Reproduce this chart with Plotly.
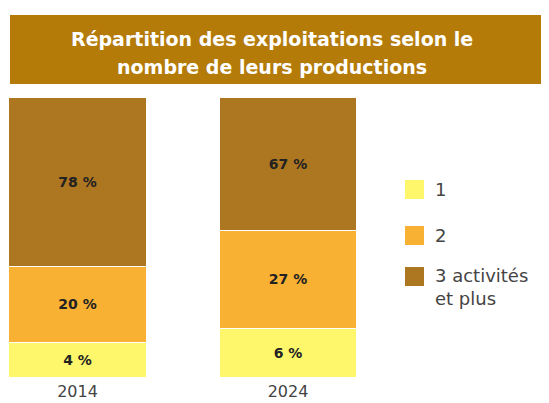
import plotly.graph_objects as go

years = ["2014", "2024"]
series_names = ["1", "2", "3 activités<br>et plus"]
# segment heights as drawn in the picture (share of bar height, %)
seg_1 = [12.5, 17.5]
seg_2 = [27.1, 35.0]
seg_3 = [60.4, 47.5]
# printed labels
lab_1 = ["4 %", "6 %"]
lab_2 = ["20 %", "27 %"]
lab_3 = ["78 %", "67 %"]
colors = ["#FEF76C", "#F8B133", "#AD7620"]
title_lines = ["Répartition des exploitations selon le", "nombre de leurs productions"]

OFF = 8  # page body margin
W, H = 549 - OFF, 403 - OFF
# plot area in window pixels: x 0..380, y 97..377
L, R, T, B = 0, 549 - 380, 97 - OFF, 403 - 377
PW, PH = W - L - R, H - T - B

def px_x(px):
    return (px - OFF - L) / PW

def px_y(py):
    return (403 - B - py) / PH

fig = go.Figure()
for vals, labs, col in zip([seg_1, seg_2, seg_3], [lab_1, lab_2, lab_3], colors):
    fig.add_trace(go.Bar(
        x=[0, 1], y=vals, text=labs, texttemplate="%{text}",
        textposition="inside", insidetextanchor="middle",
        textfont=dict(family="DejaVu Sans", size=14, color="#222222", weight="bold"),
        marker=dict(color=col, line=dict(color="white", width=1)),
        width=0.651, showlegend=False, hoverinfo="skip"))

unit = 210.5
c0 = 77.5 - OFF  # centre of first bar in figure pixels
fig.update_layout(
    barmode="stack",
    width=W, height=H,
    margin=dict(l=L, r=R, t=T, b=B, autoexpand=False),
    paper_bgcolor="white", plot_bgcolor="white",
    xaxis=dict(range=[-(c0 - L) / unit, (PW + L - c0) / unit],
               tickvals=[0, 1], ticktext=years, showgrid=False, zeroline=False,
               showline=False, ticks="", ticklabelstandoff=3, automargin=False,
               tickfont=dict(family="DejaVu Sans", size=16, color="#444444")),
    yaxis=dict(range=[0, 100], visible=False, automargin=False),
)

# title banner
fig.add_shape(type="rect", xref="paper", yref="paper",
              x0=px_x(10), x1=px_x(560), y0=px_y(84), y1=px_y(15),
              fillcolor="#B47B09", line=dict(width=0), layer="below")
for line, cy in zip(title_lines, [39, 67]):
    fig.add_annotation(xref="paper", yref="paper", x=px_x(272), y=px_y(cy),
                       text=line, showarrow=False,
                       font=dict(family="DejaVu Sans", size=19, color="white", weight="bold"),
                       xanchor="center", yanchor="middle", align="center")

# legend
leg_y = [189.5, 235.5, 276.5]
for name, col, cy in zip(series_names, colors, leg_y):
    fig.add_shape(type="rect", xref="paper", yref="paper",
                  x0=px_x(405), x1=px_x(424), y0=px_y(cy + 9.5), y1=px_y(cy - 9.5),
                  fillcolor=col, line=dict(width=0))
    fig.add_annotation(xref="paper", yref="paper", x=px_x(433), y=px_y(cy),
                       text=name, showarrow=False, xanchor="left",
                       yanchor="top" if "<br>" in name else "middle",
                       yshift=14 if "<br>" in name else 0,
                       align="left",
                       font=dict(family="DejaVu Sans", size=18, color="#444444"))

fig.write_html("out.html")
